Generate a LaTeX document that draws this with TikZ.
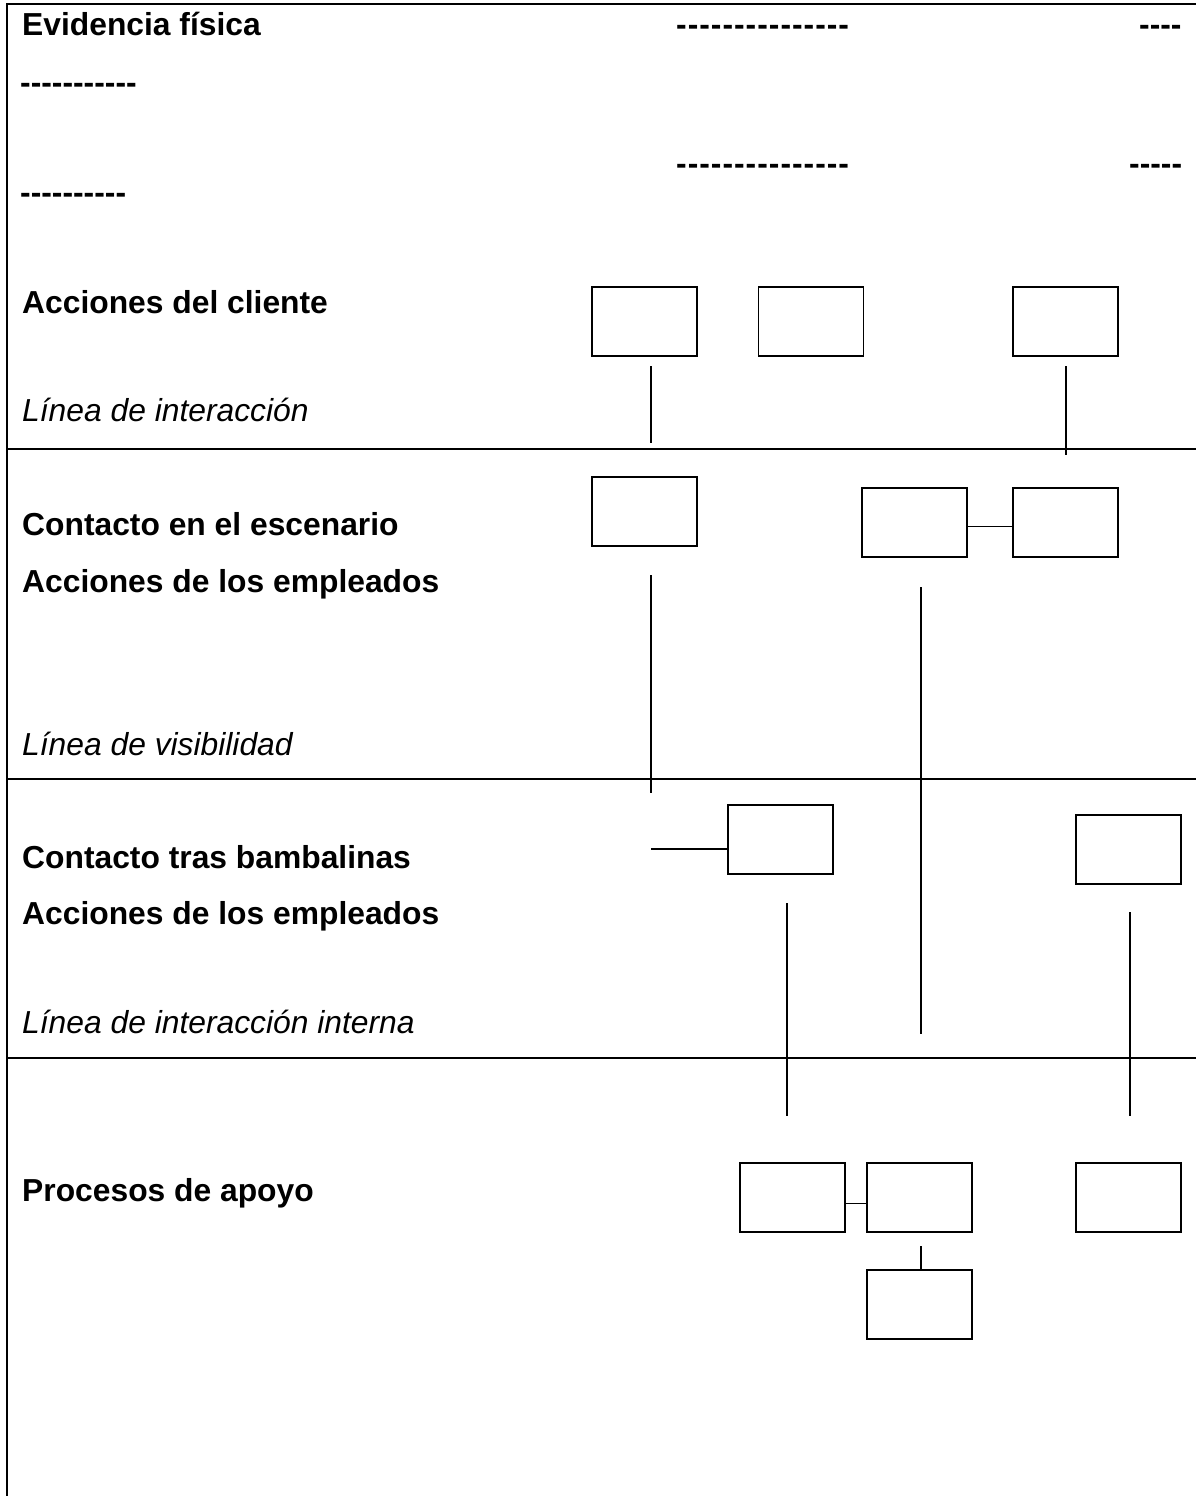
\documentclass[tikz,border=0pt]{standalone}
\usepackage{fontspec}
\setmainfont{Liberation Sans}
\newcommand\hyw{-\kern1pt}
\begin{document}
\begin{tikzpicture}[x=1pt,y=-1pt,
  frame/.style={line width=2.4pt},
  box/.style={draw,line width=1.6pt,rectangle,minimum width=105pt,minimum height=69pt,inner sep=0pt},
  link/.style={line width=1.6pt},
  t/.style={anchor=base west,inner sep=0pt,font=\fontsize{31.8pt}{38pt}\selectfont\bfseries},
  ti/.style={anchor=base west,inner sep=0pt,font=\fontsize{31.8pt}{38pt}\selectfont\itshape}
  ]
\useasboundingbox (0,0) rectangle (1196,1496);
% frame
\coordinate (tl) at (7,4);
\coordinate (tr) at (1196,4);
\coordinate (bl) at (7,1496);
\draw[frame] (tr) -- (tl) -- (bl);
\coordinate (s1l) at (7,449);  \coordinate (s1r) at (1196,449);
\coordinate (s2l) at (7,779);  \coordinate (s2r) at (1196,779);
\coordinate (s3l) at (7,1058); \coordinate (s3r) at (1196,1058);
\draw[frame] (s1l) -- (s1r);
\draw[frame] (s2l) -- (s2r);
\draw[frame] (s3l) -- (s3r);
% texts
\node[t] (ev) at (22,36) {Evidencia física};
\node[t] (d1) at (676,36) {\hyw\hyw\hyw\hyw\hyw\hyw\hyw\hyw\hyw\hyw\hyw\hyw\hyw\hyw-};
\node[t] (d2) at (1139,36) {-{}-{}-{}-};
\node[t] (d3) at (20,93) {-{}-{}-{}-{}-{}-{}-{}-{}-{}-{}-};
\node[t] (d4) at (676,174) {\hyw\hyw\hyw\hyw\hyw\hyw\hyw\hyw\hyw\hyw\hyw\hyw\hyw\hyw-};
\node[t] (d5) at (1129,174) {-{}-{}-{}-{}-};
\node[t] (d6) at (20,203) {-{}-{}-{}-{}-{}-{}-{}-{}-{}-};
\node[t] (ac) at (22,313) {Acciones del cliente};
\node[ti] (li) at (22,421) {Línea de interacción};
\node[t] (ce) at (22,535) {Contacto en el escenario};
\node[t] (ae1) at (22,592) {Acciones de los empleados};
\node[ti] (lv) at (22,755) {Línea de visibilidad};
\node[t] (ct) at (22,868) {Contacto tras bambalinas};
\node[t] (ae2) at (22,924) {Acciones de los empleados};
\node[ti] (lii) at (22,1033) {Línea de interacción interna};
\node[t] (pa) at (22,1201) {Procesos de apoyo};
% boxes
\node[box] (b1) at (644.5,321.5) {};
\node[box] (b2) at (811,321.5) {};
\node[box] (b3) at (1065.5,321.5) {};
\node[box] (b4) at (644.5,511.5) {};
\node[box] (b5) at (914.5,522.5) {};
\node[box] (b6) at (1065.5,522.5) {};
\node[box] (b7) at (780.5,839.5) {};
\node[box] (b8) at (1128.5,849.5) {};
\node[box] (b9) at (792.5,1197.5) {};
\node[box] (b10) at (919.5,1197.5) {};
\node[box] (b11) at (1128.5,1197.5) {};
\node[box] (b12) at (919.5,1304.5) {};
% connectors
\coordinate (l1a) at (651,366);  \coordinate (l1b) at (651,443);
\coordinate (l2a) at (1066,366); \coordinate (l2b) at (1066,455);
\coordinate (l3a) at (651,575);  \coordinate (l3b) at (651,793);
\coordinate (l4a) at (921,587);  \coordinate (l4b) at (921,1034);
\coordinate (l5a) at (787,903);  \coordinate (l5b) at (787,1116);
\coordinate (l6a) at (1130,912); \coordinate (l6b) at (1130,1116);
\coordinate (c7) at (651,849);
\coordinate (c12) at (921,1246);
\draw[link] (l1a) -- (l1b);
\draw[link] (l2a) -- (l2b);
\draw[link] (l3a) -- (l3b);
\draw[link] (l4a) -- (l4b);
\draw[link] (l5a) -- (l5b);
\draw[link] (l6a) -- (l6b);
\draw[link] ([yshift=-4pt]b5.east) -- ([yshift=-4pt]b6.west);
\draw[link] ([yshift=-6pt]b9.east) -- ([yshift=-6pt]b10.west);
\draw[link] (c7) -- (c7 -| b7.west);
\draw[link] (c12) -- (c12 |- b12.north);
\end{tikzpicture}
\end{document}
